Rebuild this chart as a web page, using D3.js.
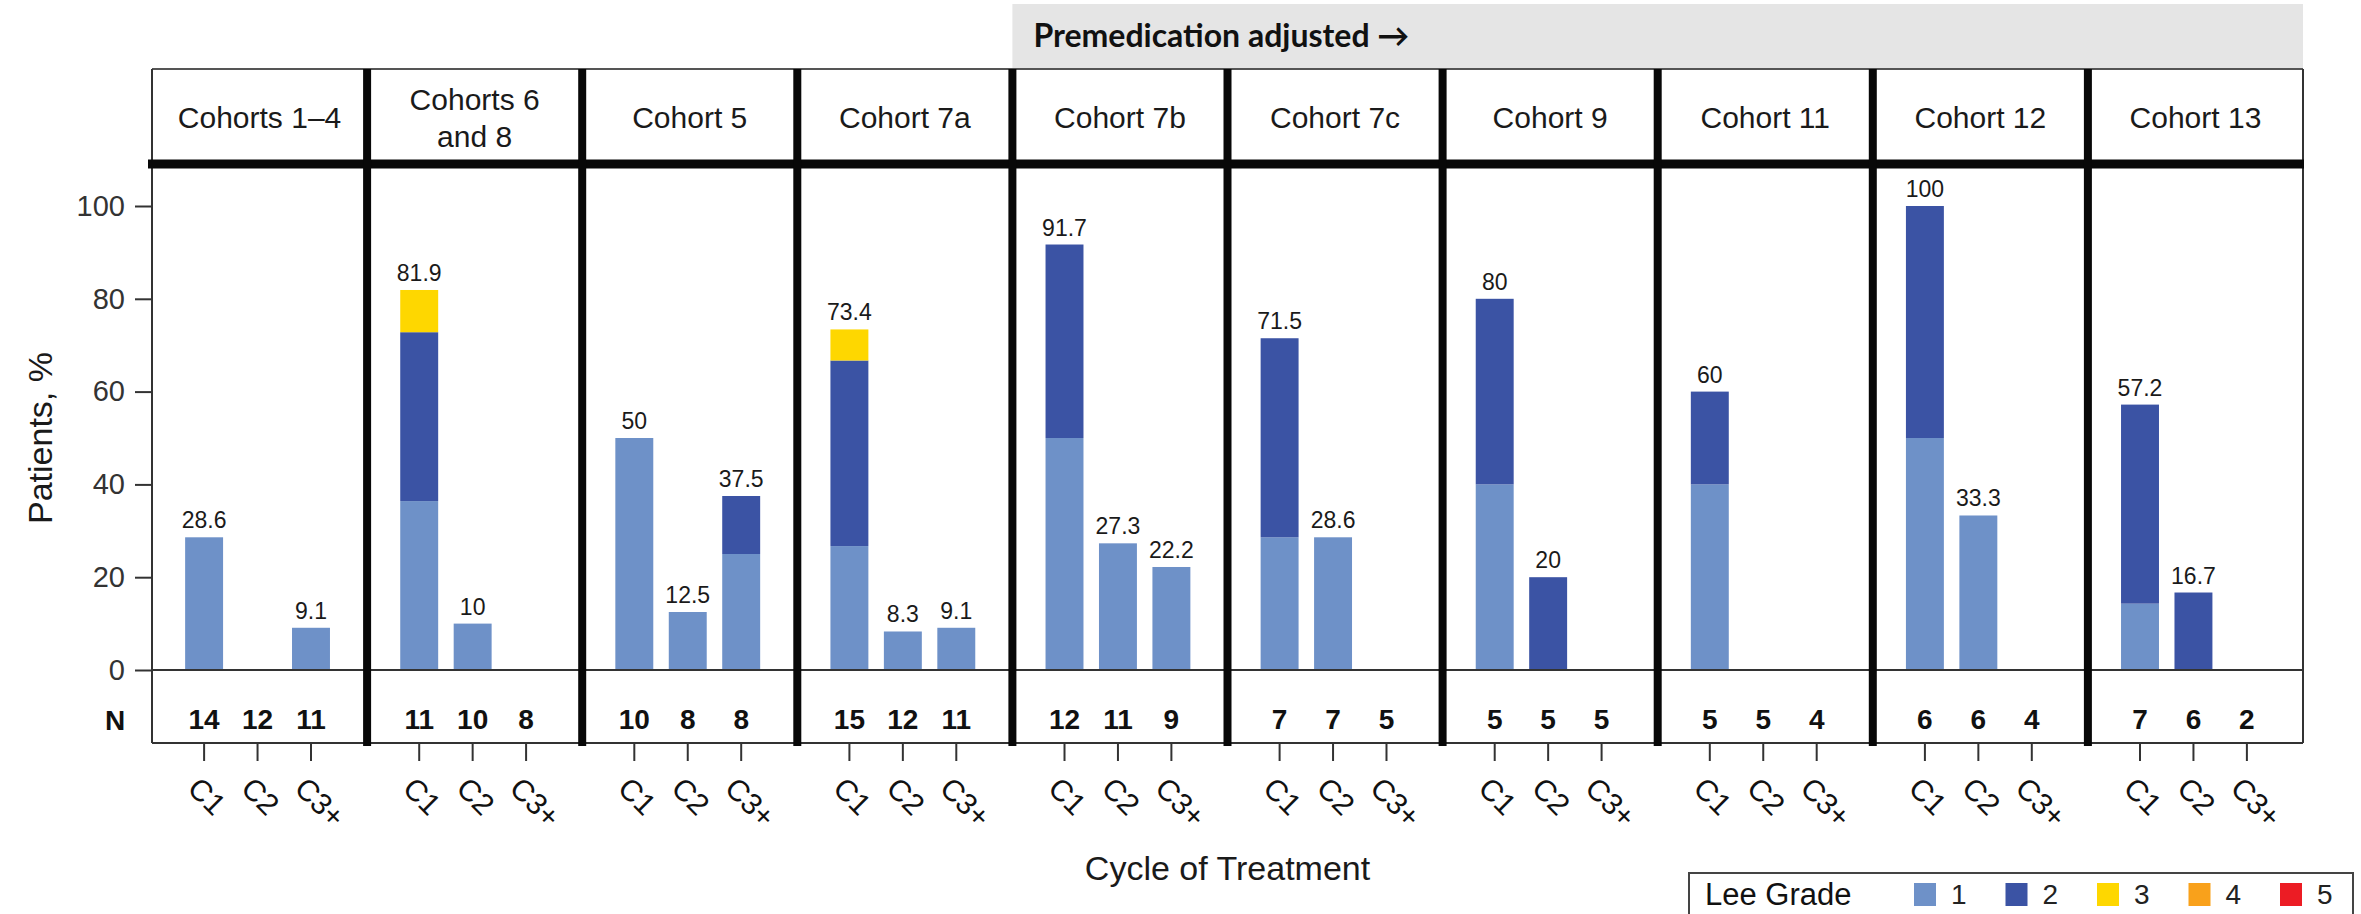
<!DOCTYPE html>
<html>
<head>
<meta charset="utf-8">
<script src="https://cdn.jsdelivr.net/npm/d3@7"></script>
<style>
  html, body { margin: 0; padding: 0; background: #fff; }
  svg { display: block; font-family: "Liberation Sans", Arimo, Arial, sans-serif; }
</style>
</head>
<body>
<svg id="chart" width="2361" height="914"></svg>
<script>
// ---- data ---------------------------------------------------------------
const cohorts = ["Cohorts 1–4", "Cohorts 6\nand 8", "Cohort 5", "Cohort 7a", "Cohort 7b",
                 "Cohort 7c", "Cohort 9", "Cohort 11", "Cohort 12", "Cohort 13"];
const cycles = ["C1", "C2", "C3+"];
const grades = ["1", "2", "3", "4", "5"];
const gradeColors = ["#6e91c8", "#3b53a4", "#fed700", "#f9a11b", "#ec1c24"];

// percent of patients by Lee grade, per cohort, per cycle [C1, C2, C3+]
const grade1 = [[28.6, 0, 9.1], [36.4, 10, 0], [50, 12.5, 25], [26.7, 8.3, 9.1], [50, 27.3, 22.2],
                [28.6, 28.6, 0], [40, 0, 0], [40, 0, 0], [50, 33.3, 0], [14.3, 0, 0]];
const grade2 = [[0, 0, 0], [36.4, 0, 0], [0, 0, 12.5], [40, 0, 0], [41.7, 0, 0],
                [42.9, 0, 0], [40, 20, 0], [20, 0, 0], [50, 0, 0], [42.9, 16.7, 0]];
const grade3 = [[0, 0, 0], [9.1, 0, 0], [0, 0, 0], [6.7, 0, 0], [0, 0, 0],
                [0, 0, 0], [0, 0, 0], [0, 0, 0], [0, 0, 0], [0, 0, 0]];
const grade4 = [[0, 0, 0], [0, 0, 0], [0, 0, 0], [0, 0, 0], [0, 0, 0],
                [0, 0, 0], [0, 0, 0], [0, 0, 0], [0, 0, 0], [0, 0, 0]];
const grade5 = [[0, 0, 0], [0, 0, 0], [0, 0, 0], [0, 0, 0], [0, 0, 0],
                [0, 0, 0], [0, 0, 0], [0, 0, 0], [0, 0, 0], [0, 0, 0]];
// patients evaluated per cycle
const nPatients = [[14, 12, 11], [11, 10, 8], [10, 8, 8], [15, 12, 11], [12, 11, 9],
                   [7, 7, 5], [5, 5, 5], [5, 5, 4], [6, 6, 4], [7, 6, 2]];
const yTicks = [0, 20, 40, 60, 80, 100];
const bannerText = "Premedication adjusted \u2192";
const bannerStart = "Cohort 7b";

// ---- layout -------------------------------------------------------------
const left = 152, right = 2303;
const headerTop = 69, headerLine = 164, zeroY = 670, nBottom = 743;
const FONT = "'Liberation Sans', Arimo, Arial, sans-serif";

const svg = d3.select("#chart");

const xPanel = d3.scaleBand().domain(cohorts).range([left, right]);
const xCycle = d3.scaleBand().domain(cycles).range([0, xPanel.bandwidth() - 4])
  .paddingInner(0.29).paddingOuter(0.62);
const y = d3.scaleLinear().domain([0, 100]).range([zeroY, 206]);
const color = d3.scaleOrdinal().domain(grades).range(gradeColors);

// flat rows for stacking
const gradeArrays = [grade1, grade2, grade3, grade4, grade5];
const rows = [];
cohorts.forEach((c, i) => cycles.forEach((cy, j) => {
  const r = { cohort: c, cycle: cy, n: nPatients[i][j] };
  grades.forEach((g, k) => r[g] = gradeArrays[k][i][j]);
  r.total = grades.reduce((s, g) => s + r[g], 0);
  rows.push(r);
}));
const series = d3.stack().keys(grades)(rows);

// ---- premedication banner ----------------------------------------------
svg.append("rect")
  .attr("x", xPanel(bannerStart)).attr("y", 4)
  .attr("width", right - xPanel(bannerStart)).attr("height", headerTop - 4)
  .attr("fill", "#e5e5e5");
svg.append("text")
  .attr("x", xPanel(bannerStart) + 21).attr("y", 47)
  .style("font-family", "Lato, 'Open Sans', sans-serif")
  .style("font-weight", 700).style("font-size", "32px").attr("fill", "#111")
  .text(bannerText);

// ---- bars ---------------------------------------------------------------
const barG = svg.append("g");
barG.selectAll("g.grade").data(series).join("g")
  .attr("class", "grade")
  .attr("fill", d => color(d.key))
  .selectAll("rect")
  .data(d => d.filter(s => s[1] - s[0] > 0))
  .join("rect")
  .attr("x", d => xPanel(d.data.cohort) + xCycle(d.data.cycle))
  .attr("width", xCycle.bandwidth())
  .attr("y", d => y(d[1]))
  .attr("height", d => y(d[0]) - y(d[1]));

// value labels
svg.append("g").selectAll("text")
  .data(rows.filter(r => r.total > 0))
  .join("text")
  .attr("x", d => xPanel(d.cohort) + xCycle(d.cycle) + xCycle.bandwidth() / 2)
  .attr("y", d => y(d.total) - 9)
  .attr("text-anchor", "middle")
  .style("font-family", FONT)
  .style("font-size", "23px").attr("fill", "#1a1a1a")
  .text(d => +d.total.toFixed(1));

// ---- frame --------------------------------------------------------------
const frame = svg.append("g").attr("stroke", "#333").attr("fill", "none");
frame.append("line").attr("x1", left).attr("x2", right).attr("y1", headerTop).attr("y2", headerTop)
  .attr("stroke", "#555").attr("stroke-width", 2);
frame.append("line").attr("x1", left).attr("x2", right).attr("y1", zeroY).attr("y2", zeroY)
  .attr("stroke-width", 2);
frame.append("line").attr("x1", left).attr("x2", right).attr("y1", nBottom).attr("y2", nBottom)
  .attr("stroke-width", 2);
[left, right].forEach(x => frame.append("line")
  .attr("x1", x).attr("x2", x).attr("y1", headerTop).attr("y2", nBottom).attr("stroke-width", 2));
frame.append("line").attr("x1", left - 4).attr("x2", right + 1).attr("y1", headerLine).attr("y2", headerLine)
  .attr("stroke", "#080808").attr("stroke-width", 9);
frame.selectAll("line.sep").data(cohorts.slice(1)).join("line")
  .attr("class", "sep")
  .attr("x1", d => xPanel(d)).attr("x2", d => xPanel(d))
  .attr("y1", headerTop).attr("y2", nBottom + 3)
  .attr("stroke", "#080808").attr("stroke-width", 8);

// ---- panel headers ------------------------------------------------------
svg.append("g").selectAll("text")
  .data(cohorts).join("text")
  .attr("x", d => xPanel(d) + xPanel.bandwidth() / 2)
  .attr("y", 128)
  .attr("text-anchor", "middle")
  .style("font-family", FONT)
  .style("font-size", "30px").attr("fill", "#1a1a1a")
  .each(function (d) {
    const lines = d.split("\n");
    const t = d3.select(this);
    lines.forEach((ln, k) => t.append("tspan")
      .attr("x", xPanel(d) + xPanel.bandwidth() / 2)
      .attr("dy", k === 0 ? (-(lines.length - 1) * 37 / 2) : 37)
      .text(ln));
  });

// ---- N row --------------------------------------------------------------
svg.append("text").attr("x", 115).attr("y", 730).attr("text-anchor", "middle")
  .style("font-family", FONT)
  .style("font-size", "28px").style("font-weight", 700).attr("fill", "#111").text("N");
svg.append("g").selectAll("text")
  .data(rows).join("text")
  .attr("x", d => xPanel(d.cohort) + xCycle(d.cycle) + xCycle.bandwidth() / 2)
  .attr("y", 729)
  .attr("text-anchor", "middle")
  .style("font-family", FONT)
  .style("font-size", "28px").style("font-weight", 700).attr("fill", "#111")
  .text(d => d.n);

// ---- y axis -------------------------------------------------------------
const yAxis = svg.append("g").attr("transform", `translate(${left},0)`)
  .call(d3.axisLeft(y).tickValues(yTicks).tickSize(17).tickPadding(10));
yAxis.select(".domain").remove();
yAxis.attr("font-family", null);
yAxis.selectAll(".tick line").attr("stroke", "#333").attr("stroke-width", 2);
yAxis.selectAll(".tick text").style("font-size", "29px").style("font-family", FONT)
  .attr("fill", "#333");

svg.append("text")
  .attr("transform", "translate(52,438) rotate(-90)")
  .attr("text-anchor", "middle")
  .style("font-family", FONT)
  .style("font-size", "34px").attr("fill", "#1a1a1a")
  .text("Patients, %");

// ---- x axes (one per panel) --------------------------------------------
cohorts.forEach(c => {
  const ax = svg.append("g").attr("transform", `translate(${xPanel(c)},${nBottom})`)
    .call(d3.axisBottom(xCycle).tickSize(18));
  ax.select(".domain").remove();
  ax.attr("font-family", null);
  ax.selectAll(".tick line").attr("stroke", "#333").attr("stroke-width", 2);
  ax.selectAll(".tick text")
    .attr("x", null).attr("y", null).attr("dy", null)
    .attr("text-anchor", "start")
    .attr("transform", "translate(-18,47) rotate(45)")
    .style("font-size", "30px").style("font-family", FONT)
    .attr("fill", "#111");
});

svg.append("text")
  .attr("x", (left + right) / 2).attr("y", 880)
  .attr("text-anchor", "middle")
  .style("font-family", FONT)
  .style("font-size", "34px").attr("fill", "#1a1a1a")
  .text("Cycle of Treatment");

// ---- legend -------------------------------------------------------------
const legend = svg.append("g");
legend.append("rect").attr("x", 1689).attr("y", 873).attr("width", 664).attr("height", 60)
  .attr("fill", "#fff").attr("stroke", "#444").attr("stroke-width", 2);
legend.append("text").attr("x", 1705).attr("y", 905)
  .style("font-family", FONT)
  .style("font-size", "31px").attr("fill", "#111").text("Lee Grade");
const item = legend.selectAll("g.item").data(grades).join("g")
  .attr("class", "item")
  .attr("transform", (d, i) => `translate(${1914 + i * 91.5},883)`);
item.append("rect").attr("width", 22).attr("height", 23).attr("fill", d => color(d));
item.append("text").attr("x", 37).attr("y", 21)
  .style("font-family", FONT)
  .style("font-size", "28px").attr("fill", "#222").text(d => d);
</script>
</body>
</html>
